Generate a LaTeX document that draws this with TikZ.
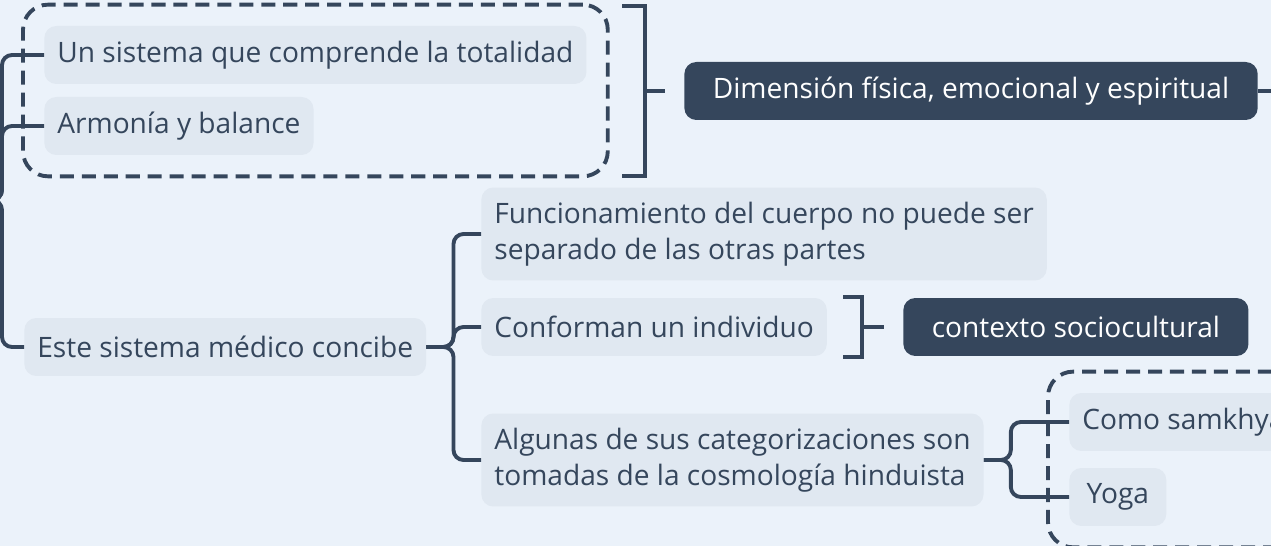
\documentclass[tikz,border=0pt]{standalone}
\usepackage{fontspec}
\setmainfont{Open Sans}
\usetikzlibrary{fit}
\definecolor{fondo}{HTML}{EBF2FA}
\definecolor{caja}{HTML}{E0E8F1}
\definecolor{oscuro}{HTML}{35465C}
\begin{document}
\begin{tikzpicture}[x=0.02cm,y=-0.02cm]
\tikzstyle{lien}=[draw=oscuro,line width=2.2pt,rounded corners=0.2cm]
\tikzset{tema/.style={fill=#1,text=oscuro,rounded corners=0.24cm,anchor=west,
  inner xsep=0.26cm,minimum height=1.16cm,align=left,
  font=\fontsize{16}{20.5}\selectfont},
tema/.default={caja},
fuerte/.style={tema=oscuro,text=white,inner xsep=0.57cm},
doble/.style={tema,minimum height=1.86cm},
grupo/.style={draw=oscuro,line width=2.2pt,dash pattern=on 8pt off 4.5pt,
  rounded corners=0.5cm,inner sep=0.42cm}}
\useasboundingbox (0,0) rectangle (1271,546);
\clip (0,0) rectangle (1271,546);
\fill[fondo] (0,0) rectangle (1271,546);

\node[tema] (un) at (44,55) {Un sistema que comprende la totalidad};
\node[tema] (armonia) at (44,126) {Armonía y balance};
\node[grupo,fit=(un)(armonia)] (g1) {};
\node[fuerte] (dim) at (684,91) {Dimensión física, emocional y espiritual};

\node[tema] (este) at (24,347) {Este sistema médico concibe};
\node[doble] (func) at (481,234) {Funcionamiento del cuerpo no puede ser\\separado de las otras partes};
\node[tema] (conf) at (481,327) {Conforman un individuo};
\node[fuerte] (contexto) at (903,327) {contexto sociocultural};
\node[doble] (algunas) at (481,460) {Algunas de sus categorizaciones son\\tomadas de la cosmología hinduista};
\node[tema] (como) at (1069,422) {Como samkhya};
\node[tema,minimum width=1.94cm] (yoga) at (1069,497) {Yoga};
\node[grupo,fit=(como)(yoga)] (g2) {};

% rama de la izquierda
\coordinate (raiz) at (-40,200);
\draw[lien] (raiz) -- (2,200) |- (un.west);
\draw[lien] (raiz) -- (2,200) |- (armonia.west);
\draw[lien] (raiz) -- (2,200) |- (este.west);

% resumen del grupo
\coordinate (c1) at (645,91);
\draw[lien,rounded corners=0pt] (622,6) -| (c1) |- (622,176);
\draw[lien] (c1) -- (665,91);
\draw[lien] (dim.east) -- ++(30,0);

\draw[lien] (este.east) -- ++(27,0) |- (func.west);
\draw[lien] (este.east) -- ++(27,0) |- (conf.west);
\draw[lien] (este.east) -- ++(27,0) |- (algunas.west);

\coordinate (c2) at (862,327);
\draw[lien,rounded corners=0pt] (843,297) -| (c2) |- (843,357);
\draw[lien] (c2) -- (884,327);

\draw[lien] (algunas.east) -- ++(27,0) |- (como.west);
\draw[lien] (algunas.east) -- ++(27,0) |- (yoga.west);
\end{tikzpicture}
\end{document}
